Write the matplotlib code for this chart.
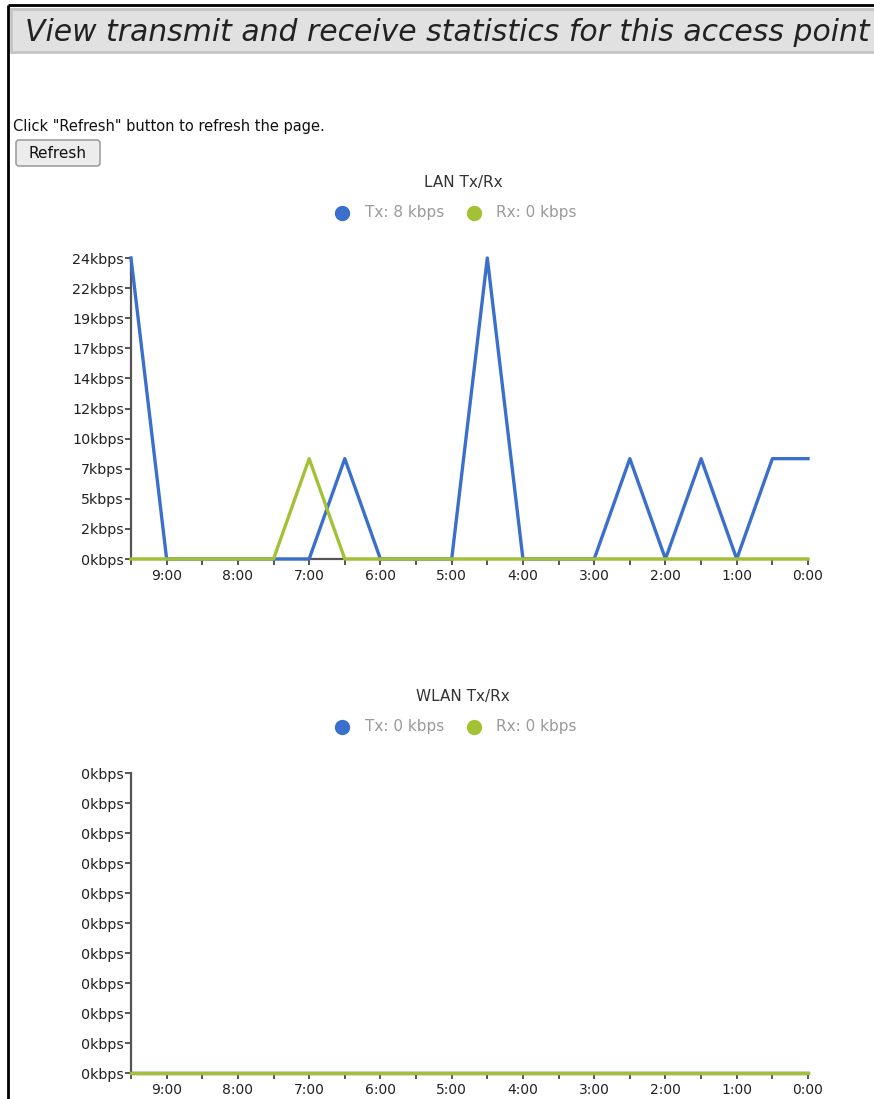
import numpy as np
import matplotlib.pyplot as plt
from matplotlib.patches import Rectangle, FancyBboxPatch
from matplotlib.ticker import FixedLocator

# ------------------------------
# data (kbps, sampled every 30 minutes, hours ago)
# ------------------------------
hours = [9.5, 9.0, 8.5, 8.0, 7.5, 7.0, 6.5, 6.0, 5.5, 5.0,
         4.5, 4.0, 3.5, 3.0, 2.5, 2.0, 1.5, 1.0, 0.5, 0.0]
lan_tx = [24, 0, 0, 0, 0, 0, 8, 0, 0, 0,
          24, 0, 0, 0, 8, 0, 8, 0, 8, 8]
lan_rx = [0, 0, 0, 0, 0, 8, 0, 0, 0, 0,
          0, 0, 0, 0, 0, 0, 0, 0, 0, 0]
wlan_tx = [0] * 20
wlan_rx = [0] * 20
hour_labels = ["9:00", "8:00", "7:00", "6:00", "5:00",
               "4:00", "3:00", "2:00", "1:00", "0:00"]
hour_ticks = [9, 8, 7, 6, 5, 4, 3, 2, 1, 0]

W, H = 874, 1099
BLUE = "#3a6fcb"
GREEN = "#a3c135"
AXIS = "#555555"

fig = plt.figure(figsize=(W / 100, H / 100), dpi=100)

# background layer in pixel coordinates
bg = fig.add_axes([0, 0, 1, 1])
bg.set_xlim(0, W)
bg.set_ylim(H, 0)
bg.axis("off")

# page border
bg.plot([8, 8], [5, H], color="black", lw=2, solid_capstyle="butt")
bg.plot([8, W], [5, 5], color="black", lw=2, solid_capstyle="butt")

# header bar
bg.add_patch(Rectangle((11, 9), W, 43, facecolor="#e1e1e1",
                       edgecolor="#c4c4c4", lw=2))
bg.text(25, 41, "View transmit and receive statistics for this access point",
        fontsize=21.5, style="italic", color="#222222", va="baseline")

bg.text(13, 131, 'Click "Refresh" button to refresh the page.',
        fontsize=10.5, color="#111111", va="baseline")

# refresh button
bg.add_patch(FancyBboxPatch((16, 140), 84, 26,
                            boxstyle="round,pad=0,rounding_size=3",
                            facecolor="#ececec", edgecolor="#a0a0a0", lw=1.2))
bg.text(58, 153, "Refresh", fontsize=11, ha="center", va="center",
        color="#111111")


def draw_chart(top, bottom, title, title_y, tx, rx):
    ymax = max(max(tx), max(rx))
    bg.text(463, title_y, title, fontsize=11, ha="center", va="center",
            color="#333333")
    leg_y = title_y + 30
    bg.plot(342, leg_y, "o", ms=10, color=BLUE)
    bg.text(365, leg_y, "Tx: %d kbps" % tx[-1], fontsize=11,
            va="center", color="#9a9a9a")
    bg.plot(474, leg_y, "o", ms=10, color=GREEN)
    bg.text(496, leg_y, "Rx: %d kbps" % rx[-1], fontsize=11,
            va="center", color="#9a9a9a")

    left, right = 131, 808
    ax = fig.add_axes([left / W, 1 - bottom / H, (right - left) / W,
                       (bottom - top) / H])
    ax.patch.set_alpha(0)
    ax.set_xlim(9.5, 0)

    scale = ymax if ymax > 0 else 1
    ax.set_ylim(0, scale)
    yt = np.linspace(0, scale, 11)
    ax.set_yticks(yt)
    ax.set_yticklabels(["%dkbps" % round(v * ymax / scale) for v in yt])

    ax.set_xticks(hour_ticks)
    ax.set_xticklabels(hour_labels)
    ax.xaxis.set_minor_locator(FixedLocator([h + 0.5 for h in hour_ticks]))

    ax.plot(hours, tx, color=BLUE, lw=2.4, clip_on=False, zorder=3)
    ax.plot(hours, rx, color=GREEN, lw=2.4, clip_on=False, zorder=4)

    for s in ["top", "right"]:
        ax.spines[s].set_visible(False)
    for s in ["left", "bottom"]:
        ax.spines[s].set_color(AXIS)
        ax.spines[s].set_linewidth(1.6)
    ax.tick_params(axis="y", which="major", length=4, width=1.4,
                   color=AXIS, labelsize=10.3, pad=1, labelcolor="#222222")
    ax.tick_params(axis="x", which="both", length=4, width=1.4,
                   color=AXIS, labelsize=10, pad=3, labelcolor="#222222")
    return ax


draw_chart(258, 559, "LAN Tx/Rx", 183, lan_tx, lan_rx)
draw_chart(773, 1073, "WLAN Tx/Rx", 697, wlan_tx, wlan_rx)

fig.savefig("out.png", dpi=100)
